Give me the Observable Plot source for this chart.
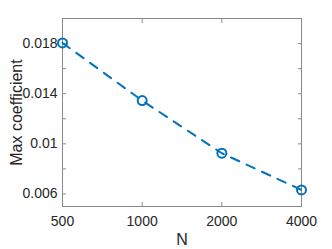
<!DOCTYPE html>
<html>
<head>
<meta charset="utf-8">
<script src="https://cdn.jsdelivr.net/npm/d3@7"></script>
<script src="https://cdn.jsdelivr.net/npm/@observablehq/plot@0.6"></script>
<style>
  html, body { margin: 0; padding: 0; background: #fff; }
  #chart svg { display: block; }
</style>
</head>
<body>
<div id="chart"></div>
<script>
const N = [500, 1000, 2000, 4000];
const maxCoef = [0.01805, 0.01345, 0.00925, 0.00632];
const xTicks = [500, 1000, 2000, 4000];
const yTicksAll = [0.006, 0.008, 0.010, 0.012, 0.014, 0.016, 0.018];
const yTickLabels = [0.006, 0.010, 0.014, 0.018];
const yLabel = "Max coefficient";
const xLabel = "N";

const data = N.map((n, i) => ({n, v: maxCoef[i]}));
const blue = "#0072BD";
const axisColor = "#8a8a8a";
const textColor = "#262626";
const font = "Liberation Sans, Arial, Helvetica, sans-serif";
const fmt = d => String(+d.toFixed(3));

const plot = Plot.plot({
  width: 332,
  height: 249,
  marginLeft: 62,
  marginRight: 31,
  marginTop: 18,
  marginBottom: 43,
  style: {fontFamily: font, background: "#fff", color: textColor},
  x: {type: "log", domain: [500, 4000], axis: null},
  y: {domain: [0.005, 0.02], axis: null},
  marks: [
    Plot.frame({stroke: axisColor, strokeWidth: 1}),
    // inward ticks
    Plot.axisX(xTicks, {anchor: "bottom", tickSize: -4, tickFormat: () => "", label: null, stroke: axisColor}),
    Plot.axisX(xTicks, {anchor: "top", tickSize: -4, tickFormat: () => "", label: null, stroke: axisColor}),
    Plot.axisY(yTicksAll, {anchor: "left", tickSize: -4, tickFormat: () => "", label: null, stroke: axisColor}),
    Plot.axisY(yTicksAll, {anchor: "right", tickSize: -4, tickFormat: () => "", label: null, stroke: axisColor}),
    // tick labels
    Plot.text(xTicks, {x: d => d, frameAnchor: "bottom", dy: 10, lineAnchor: "top", text: d => String(d), fontSize: 14, fill: textColor}),
    Plot.text(yTickLabels, {y: d => d, frameAnchor: "left", dx: -5, textAnchor: "end", lineAnchor: "middle", text: fmt, fontSize: 14, fill: textColor}),
    // axis titles
    Plot.text([xLabel], {frameAnchor: "bottom", dy: 27, lineAnchor: "top", fontSize: 16, fill: textColor}),
    Plot.text([yLabel], {frameAnchor: "left", dx: -46, rotate: -90, textAnchor: "middle", lineAnchor: "middle", fontSize: 16, fill: textColor}),
    // data
    Plot.line(data, {x: "n", y: "v", stroke: blue, strokeWidth: 2, strokeDasharray: "9,8"}),
    Plot.dot(data, {x: "n", y: "v", r: 4.5, stroke: blue, strokeWidth: 2, fill: "none"})
  ]
});
document.getElementById("chart").appendChild(plot);
</script>
</body>
</html>
